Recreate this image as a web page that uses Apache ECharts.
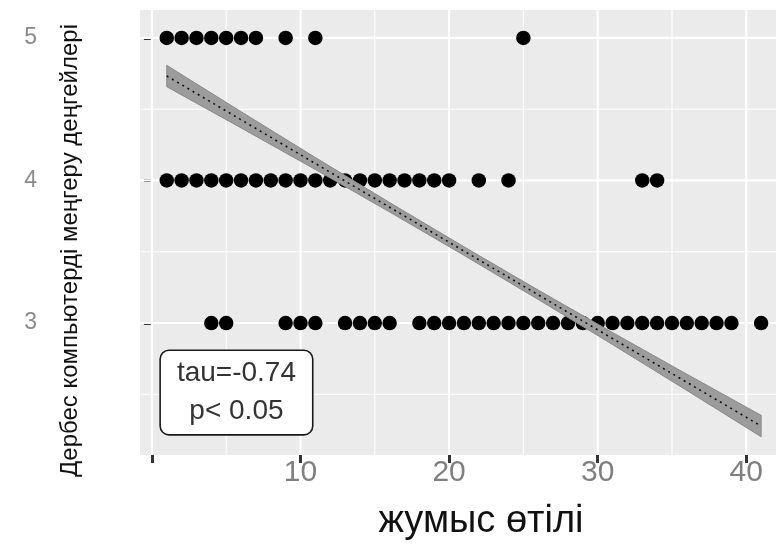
<!DOCTYPE html>
<html>
<head>
<meta charset="utf-8">
<script src="https://cdn.jsdelivr.net/npm/echarts@6/dist/echarts.min.js"></script>
<style>
  html, body { margin: 0; padding: 0; background: #ffffff; }
  #chart { width: 776px; height: 546px; }
</style>
</head>
<body>
<div id="chart"></div>
<script>
// Work experience (years) of respondents at each PC mastery level
const level5X = [1, 2, 3, 4, 5, 6, 7, 9, 11, 25];
const level4X = [1, 2, 3, 4, 5, 6, 7, 8, 9, 10, 11, 12, 13, 14, 15, 16, 17, 18, 19, 20, 22, 24, 33, 34];
const level3X = [4, 5, 9, 10, 11, 13, 14, 15, 16, 18, 19, 20, 21, 22, 23, 24, 25, 26, 27, 28, 29,
                 30, 31, 32, 33, 34, 35, 36, 37, 38, 39, 41];

// Fitted trend and its confidence band
const fitX    = [1, 6, 11, 16, 21, 26, 31, 36, 41];
const fitY    = [4.733, 4.426, 4.119, 3.812, 3.505, 3.198, 2.891, 2.584, 2.277];
const bandLow = [4.658, 4.369, 4.077, 3.779, 3.475, 3.165, 2.849, 2.527, 2.202];
const bandHigh= [4.808, 4.483, 4.161, 3.845, 3.535, 3.231, 2.933, 2.641, 2.352];

// Axis breaks
const xMajor = [0, 10, 20, 30, 40];
const xMinor = [5, 15, 25, 35];
const yMajor = [3, 4, 5];
const yMinor = [2.5, 3.5, 4.5];

const statText = 'tau=-0.74\np< 0.05';
const statPos = [5.69, 2.512];

const font = '"Liberation Sans", Arial, sans-serif';

const toPts = (xs, y) => xs.map(x => [x, y]);

// rows: [orientation (0 = vertical, 1 = horizontal), value, line width]
const gridRows = [].concat(
  xMinor.map(v => [0, v, 1.1]),
  yMinor.map(v => [1, v, 1.1]),
  xMajor.map(v => [0, v, 2.2]),
  yMajor.map(v => [1, v, 2.2])
);

const chart = echarts.init(document.getElementById('chart'), null, { renderer: 'canvas' });

chart.setOption({
  animation: false,
  backgroundColor: '#ffffff',
  grid: {
    left: 140, right: 0, top: 10, bottom: 91,
    outerBoundsMode: 'none', containLabel: false,
    show: true, backgroundColor: '#ebebeb', borderWidth: 0
  },
  xAxis: {
    type: 'value', min: -0.8, max: 42,
    axisLine: { show: false },
    splitLine: { show: false },
    axisTick: { show: true, customValues: xMajor, length: 8, lineStyle: { color: '#333333', width: 3 } },
    axisLabel: {
      customValues: xMajor, margin: 3,
      formatter: v => (v === 0 ? '' : String(v)),
      color: '#7f7f7f', fontSize: 30, fontFamily: font
    },
    name: 'жумыс өтілі', nameLocation: 'middle', nameGap: 48, nameMoveOverlap: false,
    nameTextStyle: { color: '#111111', fontSize: 38, fontFamily: font, padding: [0, 0, 0, 46] }
  },
  yAxis: {
    type: 'value', min: 2.074, max: 5.196,
    axisLine: { show: false },
    splitLine: { show: false },
    axisTick: { show: true, customValues: yMajor, length: 8, lineStyle: { color: '#333333', width: 3 } },
    axisLabel: {
      customValues: yMajor, margin: 103,
      color: '#8a8a8a', fontSize: 23, fontFamily: font
    },
    name: 'Дербес компьютерді меңгеру деңгейлері', nameLocation: 'middle', nameGap: 58,
    nameMoveOverlap: false,
    nameTextStyle: { color: '#111111', fontSize: 24, fontFamily: font, padding: [0, 36, 0, 0] }
  },
  series: [
    {
      // white panel grid lines
      type: 'custom', z: 1, silent: true,
      data: gridRows,
      encode: { x: 1, y: 1 },
      renderItem: (params, api) => {
        const cs = params.coordSys;
        const kind = api.value(0), v = api.value(1), w = api.value(2);
        let shape;
        if (kind === 0) {
          const x = api.coord([v, 3])[0];
          shape = { x1: x, y1: cs.y, x2: x, y2: cs.y + cs.height };
        } else {
          const y = api.coord([0, v])[1];
          shape = { x1: cs.x, y1: y, x2: cs.x + cs.width, y2: y };
        }
        return { type: 'line', shape: shape, style: { stroke: '#ffffff', lineWidth: w } };
      }
    },
    {
      type: 'scatter', z: 3, symbol: 'circle', symbolSize: 14.5,
      itemStyle: { color: '#000000', opacity: 1 },
      data: [].concat(toPts(level5X, 5), toPts(level4X, 4), toPts(level3X, 3))
    },
    {
      // confidence band
      type: 'custom', z: 4, silent: true,
      data: [0],
      renderItem: (params, api) => {
        const upper = fitX.map((x, i) => api.coord([x, bandHigh[i]]));
        const lower = fitX.map((x, i) => api.coord([x, bandLow[i]])).reverse();
        return {
          type: 'polygon',
          shape: { points: upper.concat(lower) },
          style: { fill: '#9c9c9c', stroke: '#8a8a8a', lineWidth: 1 }
        };
      }
    },
    {
      type: 'line', z: 5, silent: true, showSymbol: false,
      data: fitX.map((x, i) => [x, fitY[i]]),
      lineStyle: { color: '#111111', width: 1.6, type: [2, 4] }
    },
    {
      type: 'scatter', z: 6, silent: true, symbolSize: 0,
      itemStyle: { opacity: 1 },
      data: [statPos],
      label: {
        show: true, position: 'inside', formatter: statText,
        color: '#333333', fontSize: 28, fontFamily: font, lineHeight: 38,
        backgroundColor: '#ffffff', borderColor: '#1a1a1a', borderWidth: 1.6, borderRadius: 8,
        width: 151, height: 83, align: 'center', verticalAlign: 'middle', opacity: 1
      }
    }
  ]
});
</script>
</body>
</html>
